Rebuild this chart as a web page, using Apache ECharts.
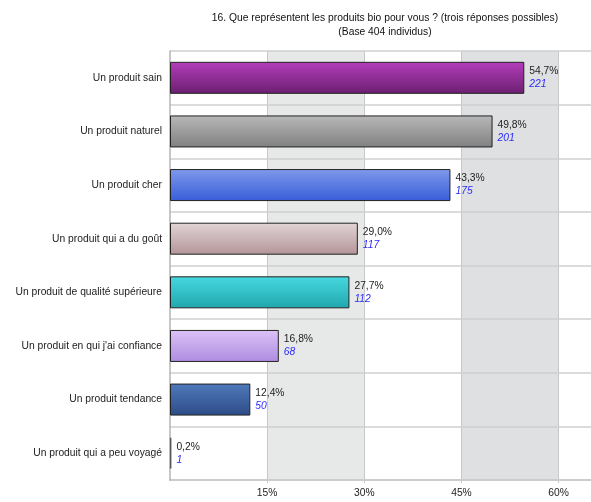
<!DOCTYPE html>
<html>
<head>
<meta charset="utf-8">
<script src="https://cdn.jsdelivr.net/npm/echarts@6/dist/echarts.min.js"></script>
<style>
  html, body { margin: 0; padding: 0; background: #fff; }
  #chart { width: 591px; height: 502px; }
</style>
</head>
<body>
<div id="chart"></div>
<script>
// Réponses (ordre d'affichage, de haut en bas)
const categories = [
  'Un produit sain',
  'Un produit naturel',
  'Un produit cher',
  'Un produit qui a du goût',
  'Un produit de qualité supérieure',
  "Un produit en qui j'ai confiance",
  'Un produit tendance',
  'Un produit qui a peu voyagé'
];
// Pourcentages et effectifs
const percents = [54.7, 49.8, 43.3, 29.0, 27.7, 16.8, 12.4, 0.2];
const counts = [221, 201, 175, 117, 112, 68, 50, 1];
const xTicks = [15, 30, 45, 60];

// Dégradés des barres (haut clair -> bas foncé)
const barColors = [
  ['#b43dbb', '#6b1f70'],
  ['#b8b8b8', '#808080'],
  ['#8099ec', '#375dd8'],
  ['#e2d4d6', '#b39598'],
  ['#47d8e0', '#21a7ad'],
  ['#dcc2f6', '#ad8ce0'],
  ['#5079bc', '#2d4c86'],
  ['#6a6a6a', '#4a4a4a']
];

const FONT = '"Liberation Sans", Arial, sans-serif';
const FS = 10.3;

const chart = echarts.init(document.getElementById('chart'), null, { renderer: 'canvas' });

const seriesData = percents.map((v, i) => ({
  value: v,
  itemStyle: {
    color: new echarts.graphic.LinearGradient(0, 0, 0, 1, [
      { offset: 0, color: barColors[i][0] },
      { offset: 1, color: barColors[i][1] }
    ]),
    borderColor: i === percents.length - 1 ? '#555' : '#222',
    borderWidth: i === percents.length - 1 ? 1.5 : 1
  }
}));

chart.setOption({
  animation: false,
  backgroundColor: '#fff',
  title: {
    text: '16. Que représentent les produits bio pour vous ? (trois réponses possibles)\n(Base 404 individus)',
    left: 380,
    textAlign: 'center',
    top: 6,
    textStyle: { fontFamily: FONT, fontSize: FS, fontWeight: 'normal', color: '#111', lineHeight: 14 }
  },
  grid: { left: 170, right: 0, top: 51, bottom: 22, containLabel: false },
  xAxis: {
    type: 'value',
    min: 0,
    max: 65,
    interval: 15,
    z: 0,
    axisLine: { show: true, lineStyle: { color: '#c4c4c4', width: 2 } },
    axisTick: { show: true, length: 3, lineStyle: { color: '#c4c4c4' } },
    axisLabel: {
      fontFamily: FONT, fontSize: FS, color: '#222', margin: 8,
      showMinLabel: false, showMaxLabel: false,
      formatter: v => (xTicks.includes(v) ? v + '%' : '')
    },
    splitLine: { show: true, showMinLine: false, showMaxLine: false, lineStyle: { color: '#c8c8c8', width: 1 } },
    splitArea: { show: true, areaStyle: { color: ['#ffffff', '#e7e8e8', '#ffffff', '#dee0e1', '#ffffff'] } }
  },
  yAxis: {
    type: 'category',
    data: categories,
    inverse: true,
    z: 1,
    axisLine: { show: true, lineStyle: { color: '#b4b4b4', width: 1.5 } },
    axisTick: { show: false },
    axisLabel: { fontFamily: FONT, fontSize: FS, color: '#222', margin: 8 },
    splitLine: { show: true, lineStyle: { color: '#cfcfcf', width: 1.5 } }
  },
  series: [{
    type: 'bar',
    z: 3,
    data: seriesData,
    barWidth: 32,
    label: {
      show: true,
      position: 'right',
      distance: 5,
      formatter: p => '{a|' + p.value.toFixed(1).replace('.', ',') + '%}\n{b|' + counts[p.dataIndex] + '}',
      rich: {
        a: { fontFamily: FONT, fontSize: FS, color: '#222', lineHeight: 13 },
        b: { fontFamily: FONT, fontSize: FS, color: '#2b2bff', fontStyle: 'italic', lineHeight: 13 }
      }
    }
  }]
});
</script>
</body>
</html>
